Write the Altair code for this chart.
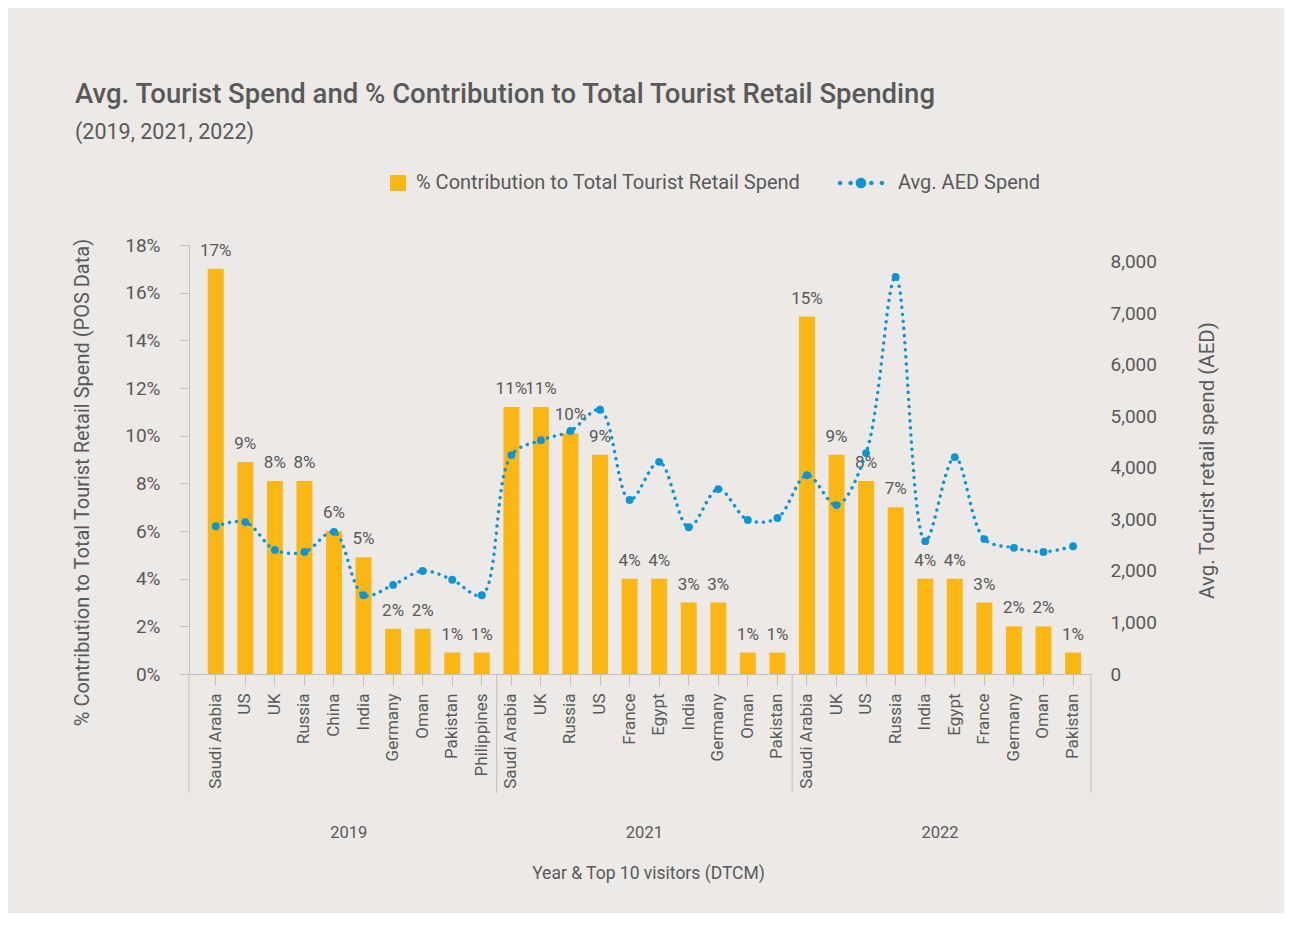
import altair as alt
import pandas as pd

# ---------------- data ----------------
years = ["2019", "2021", "2022"]

countries_2019 = ["Saudi Arabia", "US", "UK", "Russia", "China", "India",
                  "Germany", "Oman", "Pakistan", "Philippines"]
pct_2019 = [17.0, 8.9, 8.1, 8.1, 6.0, 4.9, 1.9, 1.9, 0.9, 0.9]
aed_2019 = [2870, 2950, 2410, 2370, 2760, 1530, 1730, 2000, 1830, 1530]

countries_2021 = ["Saudi Arabia", "UK", "Russia", "US", "France", "Egypt",
                  "India", "Germany", "Oman", "Pakistan"]
pct_2021 = [11.2, 11.2, 10.1, 9.2, 4.0, 4.0, 3.0, 3.0, 0.9, 0.9]
aed_2021 = [4250, 4540, 4720, 5130, 3380, 4120, 2850, 3590, 2990, 3030]

countries_2022 = ["Saudi Arabia", "UK", "US", "Russia", "India", "Egypt",
                  "France", "Germany", "Oman", "Pakistan"]
pct_2022 = [15.0, 9.2, 8.1, 7.0, 4.0, 4.0, 3.0, 2.0, 2.0, 0.9]
aed_2022 = [3860, 3280, 4290, 7710, 2580, 4210, 2620, 2450, 2370, 2480]

bar_series = "% Contribution to Total Tourist Retail Spend"
line_series = "Avg. AED Spend"

left_ticks = [0, 2, 4, 6, 8, 10, 12, 14, 16, 18]
right_ticks = [0, 1000, 2000, 3000, 4000, 5000, 6000, 7000, 8000]

# ---------------- tables ----------------
groups = [(years[0], countries_2019, pct_2019, aed_2019),
          (years[1], countries_2021, pct_2021, aed_2021),
          (years[2], countries_2022, pct_2022, aed_2022)]
rows = []
for yr, cs, ps, ae in groups:
    for c, p, a in zip(cs, ps, ae):
        rows.append({"year": yr, "country": c, "key": f"{yr}|{c}",
                     "pct": p, "aed": a, "s_bar": bar_series, "s_line": line_series})
df = pd.DataFrame(rows)
keys = list(df["key"])

sep_df = pd.DataFrame({"key": [f"{yr}|{cs[0]}" for yr, cs, _, _ in groups[1:]]})
year_df = pd.DataFrame({"year": years,
                        "key": [f"{yr}|{cs[5]}" for yr, cs, _, _ in groups]})
one_df = pd.DataFrame({"k": [0]})

# ---------------- styles ----------------
ORANGE = "#FCB715"
BLUE = "#0A96D6"
GREY_TEXT = "#595959"
AXIS_GREY = "#C3C1BE"
BG = "#ECE9E6"
FONT = "Roboto"
W, H = 902, 429

xscale = alt.Scale(domain=keys, paddingInner=0, paddingOuter=0.256, align=0.79)
xaxis = alt.Axis(
    labelExpr="split(datum.label, '|')[1]", labelAngle=270, labelFontSize=17,
    labelColor=GREY_TEXT, labelPadding=8, labelOverlap=False, labelFont=FONT,
    tickSize=11, tickColor=AXIS_GREY, domainColor=AXIS_GREY, grid=False,
    title="Year & Top 10 visitors (DTCM)", titleFontSize=17.5, titleFont=FONT,
    titleFontWeight="normal", titleColor=GREY_TEXT, titleX=459, titleY=199,
    titleBaseline="middle", titleAlign="center",
)
x_enc = alt.X("key:N", scale=xscale, axis=xaxis, sort=keys)

base = alt.Chart(df)

# bars + labels (left axis)
bars = base.mark_bar(color=ORANGE, width=alt.RelativeBandSize(0.54)).encode(
    x=x_enc,
    y=alt.Y("pct:Q", scale=alt.Scale(domain=[0, 18], nice=False),
            axis=alt.Axis(values=left_ticks, labelExpr="datum.value + '%'",
                          labelFontSize=19, labelColor=GREY_TEXT, labelFont=FONT,
                          labelPadding=19, tickSize=10, tickColor=AXIS_GREY,
                          domainColor=AXIS_GREY, grid=False,
                          title="% Contribution to Total Tourist Retail Spend (POS Data)",
                          titleFontSize=20, titleFont=FONT, titleFontWeight="normal",
                          titleColor=GREY_TEXT, titleAngle=270, titleX=-107, titleY=237,
                          titleBaseline="middle", titleAlign="center")),
    fill=alt.Fill("s_bar:N", scale=alt.Scale(range=[ORANGE]),
                  legend=alt.Legend(title=None, orient="none", legendX=199, legendY=-72,
                                    symbolType="square", symbolSize=256,
                                    symbolStrokeWidth=0, labelFontSize=20,
                                    labelFont=FONT, labelColor=GREY_TEXT,
                                    labelOffset=8, padding=0, labelLimit=600)),
)
labels = base.transform_calculate(
    lab="format(datum.pct, '.0f') + '%'"
).mark_text(baseline="alphabetic", dy=-13, fontSize=17, font=FONT,
            color=GREY_TEXT).encode(
    x=x_enc,
    y=alt.Y("pct:Q"),
    text="lab:N",
)
left_layer = alt.layer(bars, labels)

# line + points (right axis)
yright = alt.Y("aed:Q", scale=alt.Scale(domain=[0, 8330], nice=False),
               axis=alt.Axis(orient="right", values=right_ticks, format=",d",
                             labelFontSize=19, labelColor=GREY_TEXT, labelFont=FONT,
                             labelPadding=19, ticks=False, domain=False, grid=False,
                             title="Avg. Tourist retail spend (AED)", titleFontSize=20.5,
                             titleFont=FONT, titleFontWeight="normal",
                             titleColor=GREY_TEXT, titleAngle=270, titleX=116,
                             titleY=215, titleBaseline="middle", titleAlign="center"))
line = base.mark_line(interpolate="catmull-rom", color=BLUE, strokeWidth=3.4,
                      strokeDash=[0.1, 7], strokeCap="round").encode(
    x=x_enc, y=yright)

r = 0.1
R = 0.23
dots = [(-0.91, r), (-0.45, r), (0.0, R), (0.45, r), (0.91, r)]
legend_path = "".join(
    f"M{cx - rr:.3f},0A{rr},{rr} 0 1,0 {cx + rr:.3f},0A{rr},{rr} 0 1,0 {cx - rr:.3f},0Z"
    for cx, rr in dots)

points = base.mark_circle(size=62, opacity=1).encode(
    x=x_enc,
    y=alt.Y("aed:Q"),
    color=alt.Color("s_line:N", scale=alt.Scale(range=[BLUE]),
                    legend=alt.Legend(title=None, orient="none", legendX=649, legendY=-85,
                                      symbolType=legend_path, symbolSize=2116,
                                      symbolStrokeWidth=0, symbolFillColor=BLUE,
                                      labelFontSize=20, labelFont=FONT,
                                      labelColor=GREY_TEXT, labelOffset=14, padding=0)),
)
right_layer = alt.layer(line, points)

# group separators & year labels
seps = alt.Chart(sep_df).mark_rule(color=AXIS_GREY, strokeWidth=1).encode(
    x=alt.X("key:N", scale=xscale, axis=xaxis, sort=keys, bandPosition=0),
    y=alt.value(H), y2=alt.value(H + 119))
edge_left = alt.Chart(one_df).mark_rule(color=AXIS_GREY, strokeWidth=1).encode(
    x=alt.value(0), y=alt.value(H), y2=alt.value(H + 119))
edge_right = alt.Chart(one_df).mark_rule(color=AXIS_GREY, strokeWidth=1).encode(
    x=alt.value(W), y=alt.value(H), y2=alt.value(H + 119))
year_text = alt.Chart(year_df).mark_text(
    fontSize=16.5, font=FONT, color=GREY_TEXT, baseline="middle", align="center"
).encode(
    x=alt.X("key:N", scale=xscale, axis=xaxis, sort=keys, bandPosition=0),
    y=alt.value(588),
    text="year:N")

chart = alt.layer(left_layer, right_layer, seps, edge_left, edge_right, year_text).resolve_scale(
    y="independent", color="independent", fill="independent"
).resolve_legend(color="independent", fill="independent").properties(
    width=W, height=H,
    autosize=alt.AutoSizeParams(type="none"),
    padding={"left": 181, "top": 237, "right": 193, "bottom": 239},
    title=alt.TitleParams(
        text="Avg. Tourist Spend and % Contribution to Total Tourist Retail Spending",
        subtitle="(2019, 2021, 2022)", anchor="start", frame="group", dx=-114,
        font=FONT, fontSize=27.5, fontWeight=500, color=GREY_TEXT,
        subtitleFont=FONT, subtitleFontSize=21.5, subtitleColor=GREY_TEXT,
        subtitlePadding=13, offset=17),
).configure(background=BG, font=FONT).configure_view(strokeWidth=0)

chart.save("out.html", embed_options={"renderer": "svg", "actions": False})
